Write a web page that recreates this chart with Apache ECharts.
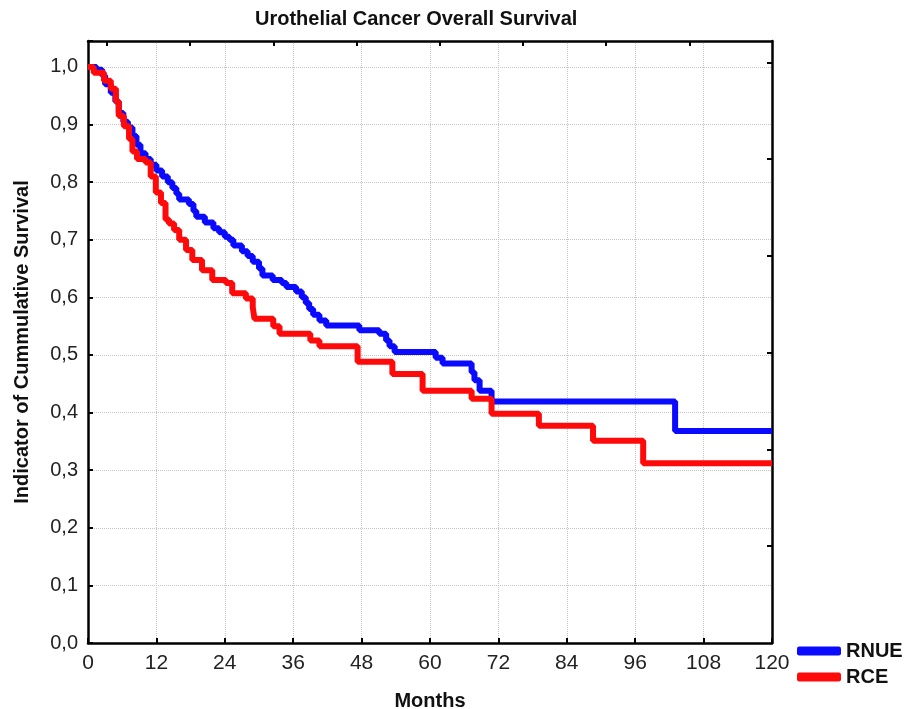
<!DOCTYPE html>
<html>
<head>
<meta charset="utf-8">
<script src="https://cdn.jsdelivr.net/npm/echarts@6/dist/echarts.min.js"></script>
<style>
  html, body { margin: 0; padding: 0; background: #fff; }
  #chart { width: 910px; height: 709px; }
</style>
</head>
<body>
<div id="chart"></div>
<script>
// Kaplan-Meier steps: months and survival values
const rnueMonths = [0, 1.5, 2.5, 3, 4, 4.8, 5.4, 6.2, 7, 7.8, 8.5, 9.2, 10.1, 11, 12, 13, 14, 14.8, 15.5, 16,
  17.7, 18.5, 19, 20.5, 22, 23, 24, 24.8, 25.5, 27, 28, 28.9, 30, 30.6, 32.4, 34, 34.8, 36.5, 37.5, 38.2,
  38.8, 39.5, 40.6, 41.8, 47.6, 51.1, 52.3, 52.9, 53.8, 61, 62.2, 67.3, 67.8, 68.7, 70.8, 103, 120]
const rnueSurv = [1.0, 0.995, 0.985, 0.97, 0.955, 0.94, 0.92, 0.905, 0.895, 0.88, 0.865, 0.85, 0.84, 0.83, 0.82, 0.81, 0.8, 0.79, 0.78, 0.77,
  0.762, 0.75, 0.74, 0.73, 0.72, 0.713, 0.705, 0.7, 0.69, 0.68, 0.672, 0.662, 0.65, 0.638, 0.63, 0.625, 0.618, 0.61, 0.6, 0.59,
  0.58, 0.57, 0.56, 0.551, 0.543, 0.537, 0.525, 0.515, 0.505, 0.495, 0.485, 0.47, 0.456, 0.438, 0.419, 0.368, 0.368]

const rceMonths = [0, 1, 2.8, 4, 4.9, 5.4, 6.3, 7.2, 7.8, 8.6, 10.1, 11, 11.9, 12.8, 13.6, 14.2, 15.1, 16, 17.2, 18.3,
  20, 21.8, 24.2, 25.3, 27.7, 28.9, 29.2, 32.5, 33.6, 39, 40.6, 47.3, 53.4, 58.7, 67.3, 70.8, 79.1, 88.6, 97.4, 120]
const rceSurv = [1.0, 0.99, 0.976, 0.962, 0.94, 0.915, 0.897, 0.875, 0.853, 0.84, 0.834, 0.81, 0.782, 0.764, 0.735, 0.728, 0.717, 0.7, 0.682, 0.665,
  0.647, 0.63, 0.625, 0.607, 0.598, 0.583, 0.563, 0.55, 0.537, 0.525, 0.515, 0.488, 0.467, 0.438, 0.424, 0.398, 0.377, 0.351, 0.312, 0.312]

// secondary (top / right) frame ticks, own spacing as in the original
const topTicks = [3.3, 17.9, 32.5, 47.1, 61.7, 76.3, 90.9, 105.5]
const rightTicks = [0.168, 0.336, 0.504, 0.672, 0.84, 1.008]

const FONT = "'Liberation Sans', Arial, sans-serif"

const pairs = (xs, ys) => xs.map((x, i) => [x, ys[i]])

const chart = echarts.init(document.getElementById('chart'))

const frameLine = { show: true, onZero: false, lineStyle: { color: '#000', width: 2.5 } }

chart.setOption({
  animation: false,
  title: {
    text: 'Urothelial Cancer Overall Survival',
    left: 255,
    top: 9,
    padding: 0,
    textStyle: { fontFamily: FONT, fontSize: 20, fontWeight: 'bold', color: '#111' },
  },
  legend: {
    orient: 'vertical',
    left: 797,
    top: 641,
    padding: 0,
    itemWidth: 44,
    itemHeight: 9,
    itemGap: 6,
    itemTextGap: 7,
    icon: 'roundRect',
    textStyle: { fontFamily: FONT, fontSize: 20, fontWeight: 'bold', color: '#111' },
    data: ['RNUE', 'RCE'],
  },
  grid: { left: 88, right: 138, top: 41, bottom: 66, outerBoundsMode: 'none', containLabel: false },
  xAxis: [
    {
      type: 'value',
      min: 0,
      max: 120,
      interval: 12,
      name: 'Months',
      nameLocation: 'middle',
      nameGap: 48,
      nameTextStyle: { fontFamily: FONT, fontSize: 20, fontWeight: 'bold', color: '#111' },
      axisLine: frameLine,
      axisTick: { show: true, inside: true, length: 5, lineStyle: { color: '#000', width: 2 } },
      axisLabel: { fontFamily: FONT, fontSize: 21, color: '#222', margin: 10 },
      splitLine: { show: true, lineStyle: { color: '#c4c4c4', type: 'dotted', width: 1 } },
    },
    {
      type: 'value',
      position: 'top',
      min: 0,
      max: 120,
      axisLine: frameLine,
      axisTick: { show: true, inside: true, length: 5, customValues: topTicks, lineStyle: { color: '#000', width: 2 } },
      axisLabel: { show: false },
      splitLine: { show: false },
    },
  ],
  yAxis: [
    {
      type: 'value',
      min: 0,
      max: 1.045,
      interval: 0.1,
      name: 'Indicator of Cummulative Survival',
      nameLocation: 'middle',
      nameRotate: 90,
      nameGap: 56,
      nameTextStyle: { fontFamily: FONT, fontSize: 20, fontWeight: 'bold', color: '#111' },
      axisLine: frameLine,
      axisTick: { show: true, inside: true, length: 5, lineStyle: { color: '#000', width: 2 } },
      axisLabel: {
        fontFamily: FONT,
        fontSize: 20,
        color: '#222',
        margin: 10,
        formatter: (v) => (v > 1.001 ? '' : v.toFixed(1).replace('.', ',')),
      },
      splitLine: { show: true, lineStyle: { color: '#c4c4c4', type: 'dotted', width: 1 } },
    },
    {
      type: 'value',
      position: 'right',
      min: 0,
      max: 1.045,
      axisLine: frameLine,
      axisTick: { show: true, inside: true, length: 5, customValues: rightTicks, lineStyle: { color: '#000', width: 2 } },
      axisLabel: { show: false },
      splitLine: { show: false },
    },
  ],
  series: [
    {
      name: 'RNUE',
      type: 'line',
      step: 'end',
      symbol: 'none',
      data: pairs(rnueMonths, rnueSurv),
      color: '#0a0aff',
      lineStyle: { width: 6, color: '#0a0aff' },
      z: 3,
    },
    {
      name: 'RCE',
      type: 'line',
      step: 'end',
      symbol: 'none',
      data: pairs(rceMonths, rceSurv),
      color: '#ff0a0a',
      lineStyle: { width: 6, color: '#ff0a0a' },
      z: 4,
    },
  ],
})
</script>
</body>
</html>
